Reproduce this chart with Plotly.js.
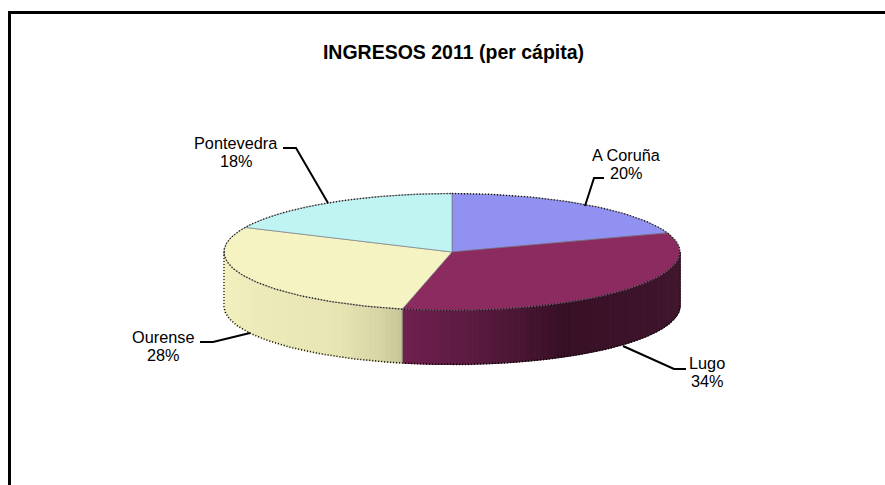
<!DOCTYPE html>
<html><head><meta charset="utf-8">
<script src="https://cdn.plot.ly/plotly-3.0.1.min.js"></script>
<style>html,body{margin:0;padding:0;background:#fff}#c{width:885px;height:485px}</style>
</head><body><div id="c"></div>
<script>
const categories = ["A Coruña", "Lugo", "Ourense", "Pontevedra"];
const values = [19.7, 33.8, 28.4, 18.1];
const topColors = ["#9191f2", "#8b2b60", "#f5f3c2", "#c0f4f3"];
const labelX = [626, 707, 163, 236];
const labelY = [155, 363, 337, 143];
const leaders = [
  [[585,206],[594,178],[604,178]],
  [[623,346],[674,369],[686,369]],
  [[250,333],[213,342],[200,342]],
  [[328,203],[296,148],[283,148]]
];
const cx = 452, cy = 252, rx = 228, ry = 58.5, depth = 54;
const D = Math.PI / 180;
const px = t => cx + rx * Math.sin(t * D);
const py = t => cy - ry * Math.cos(t * D);
const total = values.reduce((a, b) => a + b, 0);
const edges = [0];
values.forEach(v => edges.push(edges[edges.length - 1] + v / total * 360));

function rng(a, b, step) {
  const r = [];
  const n = Math.max(1, Math.ceil((b - a) / step));
  for (let i = 0; i <= n; i++) r.push(a + (b - a) * i / n);
  return r;
}
function lerp(stops, f) {
  let i = 0;
  while (i < stops.length - 2 && f > stops[i + 1][0]) i++;
  const [f0, c0] = stops[i], [f1, c1] = stops[i + 1];
  const k = Math.min(1, Math.max(0, (f - f0) / (f1 - f0)));
  const c = c0.map((v, j) => Math.round(v + (c1[j] - v) * k));
  return `rgb(${c[0]},${c[1]},${c[2]})`;
}
const wallStops = {
  1: [[0, [66,24,48]], [0.6, [56,16,38]], [0.81, [88,26,62]], [1, [112,32,80]]],
  2: [[0, [198,195,152]], [0.075, [215,212,165]], [0.22, [232,229,180]], [1, [243,241,192]]]
};
const traces = [];
function poly(x, y, color, lineColor, w, dash) {
  traces.push({type:"scatter", mode:"lines", x, y, fill:"toself", fillcolor:color,
    line:{color:lineColor || color, width:w === undefined ? 1 : w, dash:dash || "solid"},
    hoverinfo:"skip", showlegend:false});
}
function path(x, y, color, w, dash) {
  traces.push({type:"scatter", mode:"lines", x, y, line:{color, width:w, dash:dash || "solid"},
    hoverinfo:"skip", showlegend:false});
}
// side wall (visible half, 90 to 270 deg), shaded strip by strip
[1, 2].forEach(s => {
  const a = Math.max(edges[s], 90), b = Math.min(edges[s + 1], 270);
  const ts = rng(a, b, 1.5);
  for (let i = 0; i < ts.length - 1; i++) {
    const t0 = ts[i], t1 = ts[i + 1];
    const f = ((t0 + t1) / 2 - a) / (b - a);
    const col = lerp(wallStops[s], f);
    poly([px(t0), px(t1), px(t1), px(t0), px(t0)],
         [py(t0), py(t1), py(t1) + depth, py(t0) + depth, py(t0)], col);
  }
});
// top faces
values.forEach((v, i) => {
  const ts = rng(edges[i], edges[i + 1], 1);
  poly([cx, ...ts.map(px), cx], [cy, ...ts.map(py), cy], topColors[i], "#6f6f78", 0.6);
});
// dotted outline
const all = rng(0, 360, 1);
path(all.map(px), all.map(py), "#111", 1.4, "1px,2px");
const low = rng(90, 270, 1);
path(low.map(px), low.map(t => py(t) + depth), "#000", 1.6, "1px,2px");
[90, 270].forEach(t => path([px(t), px(t)], [py(t), py(t) + depth], "#111", 1.3, "1px,2px"));
path([px(edges[2]), px(edges[2])], [py(edges[2]), py(edges[2]) + depth], "#555", 0.6);
// leader lines
leaders.forEach(l => path(l.map(p => p[0]), l.map(p => p[1]), "#000", 2));

const font = {family:"Liberation Sans, Arial, sans-serif", size:16.3, color:"#000"};
const annotations = [];
categories.forEach((c, i) => {
  const pct = Math.round(values[i] / total * 100) + "%";
  annotations.push({x:labelX[i], y:labelY[i], text:c, showarrow:false, xanchor:"center", yanchor:"middle", font});
  annotations.push({x:labelX[i], y:labelY[i] + 17.7, text:pct, showarrow:false, xanchor:"center", yanchor:"middle", font});
});
const layout = {
  width:885, height:485, margin:{l:0,r:0,t:0,b:0,pad:0},
  paper_bgcolor:"#fff", plot_bgcolor:"#fff", showlegend:false,
  title:{text:"<b>INGRESOS 2011 (per cápita)</b>", x:453.5/885, xanchor:"center", xref:"paper",
         y:1-52/485, yanchor:"middle", yref:"paper",
         font:{family:"Liberation Sans, Arial, sans-serif", size:19.5, color:"#000"}},
  xaxis:{range:[0,885], visible:false, fixedrange:true},
  yaxis:{range:[485,0], visible:false, fixedrange:true},
  annotations,
  shapes:[
    {type:"line", xref:"x", yref:"y", x0:8, x1:885, y0:12.5, y1:12.5, line:{color:"#000", width:3}},
    {type:"line", xref:"x", yref:"y", x0:9.5, x1:9.5, y0:11, y1:485, line:{color:"#000", width:3}}
  ]
};
Plotly.newPlot("c", traces, layout, {staticPlot:true, displayModeBar:false});
</script></body></html>
